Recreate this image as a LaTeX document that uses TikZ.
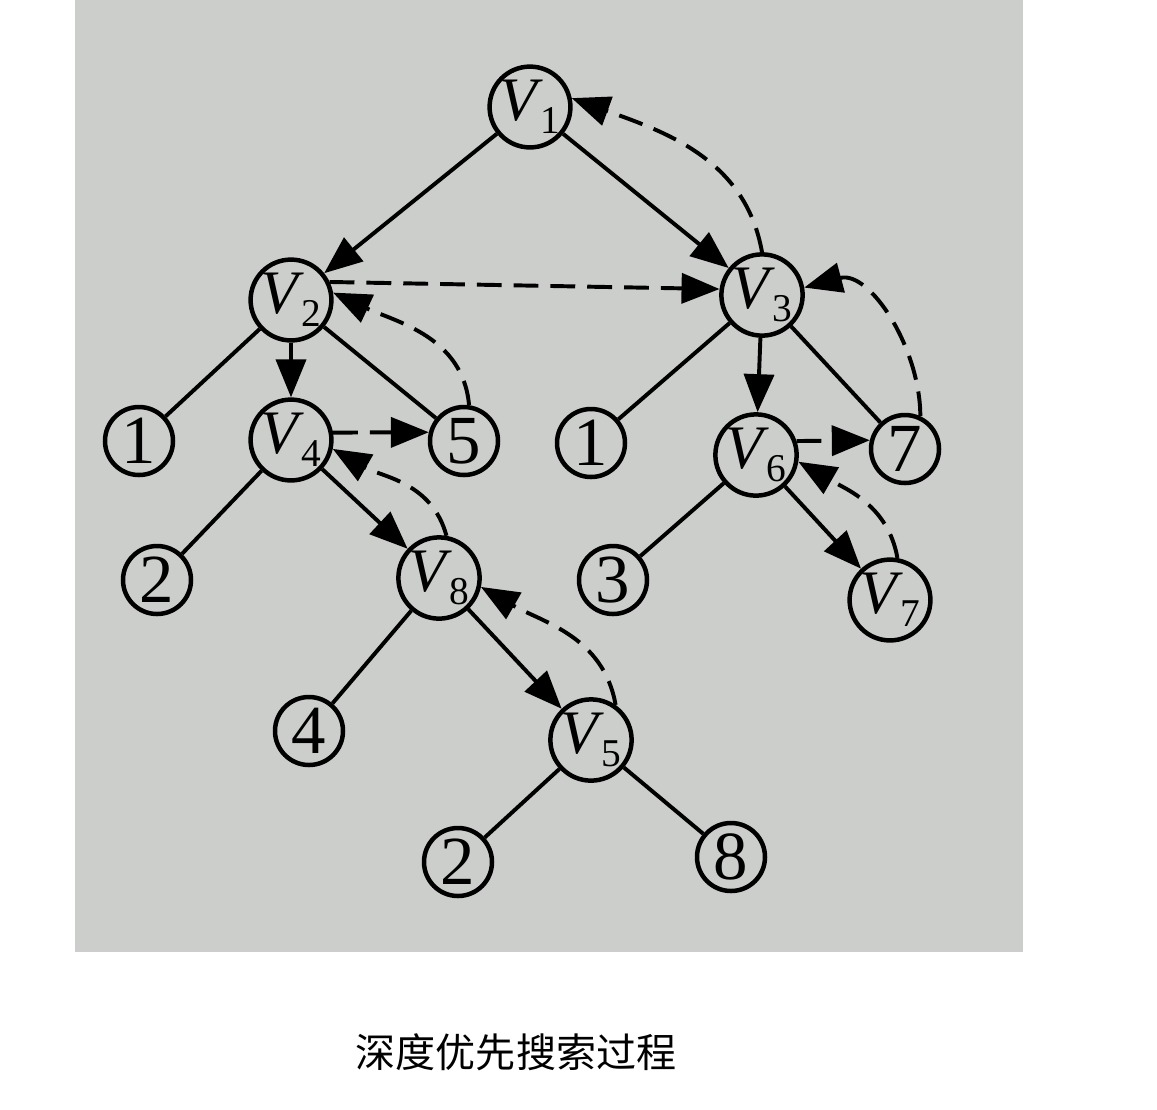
\documentclass[tikz,border=0pt]{standalone}
\usepackage{fontspec}
\setmainfont{Liberation Serif}
\newfontfamily\cjk{Noto Sans CJK SC}
\usetikzlibrary{arrows.meta}
\definecolor{paper}{RGB}{204,206,203}
\newcommand{\vn}[1]{\textit{V}\kern-0.04em\raisebox{-0.45ex}{\fontsize{28}{28}\selectfont #1}}

\begin{document}
\begin{tikzpicture}[>={Triangle[length=0.95cm,width=0.75cm]},
  vnode/.style={circle, draw, line width=3.2pt, minimum size=2cm, inner sep=0pt, font=\fontsize{44}{46}\selectfont},
  nnode/.style={circle, draw, line width=3.2pt, minimum size=1.7cm, inner sep=0pt, font=\fontsize{49}{51}\selectfont},
  tree/.style={line width=2.8pt},
  back/.style={line width=2.8pt, dash pattern=on 0.62cm off 0.3cm}]
  \useasboundingbox (0,0) rectangle (28.925,-27.725);
  \fill[paper] (1.875,0) rectangle (25.575,-23.8);
  % vertices
  \node[vnode] (v1) at (13.25,-2.675) {\vn{1}};
  \node[vnode] (v2) at (7.275,-7.5) {\vn{2}};
  \node[vnode] (v3) at (19.05,-7.375) {\vn{3}};
  \node[vnode] (v4) at (7.275,-11.0) {\vn{4}};
  \node[vnode] (v6) at (18.9,-11.375) {\vn{6}};
  \node[vnode] (v8) at (10.975,-14.45) {\vn{8}};
  \node[vnode] (v7) at (22.25,-15.0) {\vn{7}};
  \node[vnode] (v5) at (14.775,-18.5) {\vn{5}};
  % adjacency numbers
  \node[nnode] (a1) at (3.475,-11.025) {1};
  \node[nnode] (a5) at (11.6,-11.025) {5};
  \node[nnode] (b1) at (14.775,-11.075) {1};
  \node[nnode] (b7) at (22.625,-11.225) {7};
  \node[nnode] (c2) at (3.925,-14.5) {2};
  \node[nnode] (c3) at (15.325,-14.5) {3};
  \node[nnode] (d4) at (7.725,-18.275) {4};
  \node[nnode] (e2) at (11.45,-21.55) {2};
  \node[nnode] (e8) at (18.275,-21.425) {8};
  % tree edges
  \draw[tree,->] (v1) -- (v2);
  \draw[tree,->] (v1) -- (v3);
  \draw[tree,->] (v2) -- (v4);
  \draw[tree,->] (v3) -- (v6);
  \draw[tree,->] (v4) -- (v8);
  \draw[tree,->] (v6) -- (v7);
  \draw[tree,->] (v8) -- (v5);
  \draw[tree] (v2) -- (a1);
  \draw[tree] (v2) -- (a5);
  \draw[tree] (v3) -- (b1);
  \draw[tree] (v3) -- (b7);
  \draw[tree] (v4) -- (c2);
  \draw[tree] (v6) -- (c3);
  \draw[tree] (v8) -- (d4);
  \draw[tree] (v5) -- (e2);
  \draw[tree] (v5) -- (e8);
  % search order
  \draw[back,->] (v2.25) -- (v3.172);
  \draw[back,->] (v4.10) -- (a5.166);
  \draw[back,->] (v6.19) -- (b7.166);
  \draw[back,->] (a5.82) to[out=95,in=-25] (v2.10);
  \draw[back,->] (v8.80) to[out=105,in=-30] (v4.-12);
  \draw[back,->] (v5.55) to[out=100,in=-30] (v8.-12);
  \draw[back,->] (v7.80) to[out=100,in=-30] (v6.-9);
  \draw[back,->] (b7.65) to[out=90,in=15] (v3.10);
  \draw[back,->] (v3.90) to[out=100,in=-20] (v1.12);
  \node[font=\cjk\fontsize{28.5}{30}\selectfont] (cap) at (12.9,-26.3) {深度优先搜索过程};
\end{tikzpicture}
\end{document}
